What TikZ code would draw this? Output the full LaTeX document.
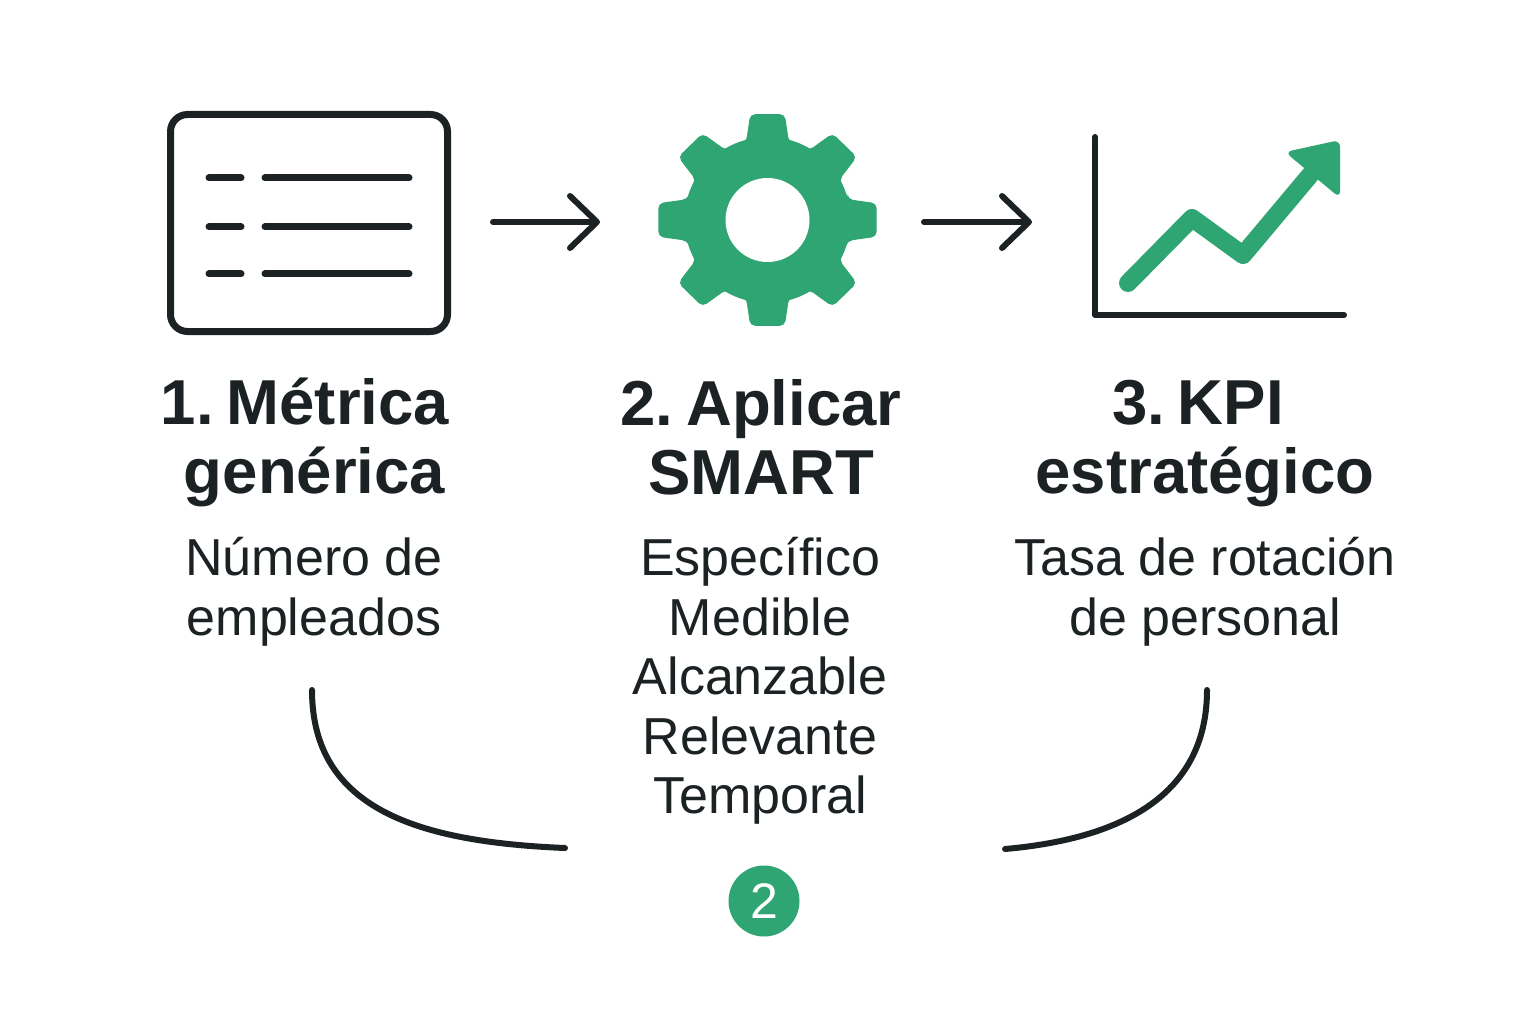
\documentclass[tikz,border=0pt]{standalone}
\usepackage{fontspec}
\setmainfont{Liberation Sans}
\newfontfamily\headfont[WordSpace=0.4]{Liberation Sans}
\usetikzlibrary{arrows.meta, positioning, calc}
\definecolor{icongreen}{HTML}{2FA573}
\definecolor{inkdark}{HTML}{1C2123}
\tikzset{
  head/.style    = {align=center, font=\headfont\bfseries\fontsize{63.5pt}{69pt}\selectfont, text=inkdark, inner sep=0pt},
  body/.style    = {align=center, font=\fontsize{52pt}{59.5pt}\selectfont, text=inkdark, inner sep=0pt},
  inkline/.style = {draw=inkdark, line width=6pt, line cap=round, line join=round},
  arr/.style     = {inkline, -{Straight Barb[length=27pt, width=52pt, round, line width=6pt]}},
}
\begin{document}
\begin{tikzpicture}[x=1pt,y=-1pt]
  \useasboundingbox[fill=white] (0,0) rectangle (1536,1024);

  % ── List card ─────────────────────────────────────
  \node[draw=inkdark, line width=7pt, rounded corners=17pt, minimum width=277pt, minimum height=217pt, inner sep=0pt] (Card) at (309,223) {};
  \foreach \yy in {178,227,274}{
    \coordinate (La) at (209,\yy);
    \coordinate (Lb) at (241,\yy);
    \coordinate (Lc) at (265,\yy);
    \coordinate (Ld) at (409,\yy);
    \draw[inkline, line width=7pt] (La) -- (Lb);
    \draw[inkline, line width=7pt] (Lc) -- (Ld);
  }

  % ── Gear ──────────────────────────────────────────
  \coordinate (Gear) at (767.5,220);
  \fill[icongreen, shift={(767.5,220)}, yscale=0.97, rounded corners=5pt] (-15:83)
    \foreach \aa in {0,45,...,315}{
      -- (\aa-15:83) -- (\aa-9:110.5) -- (\aa+9:110.5) -- (\aa+15:83)
    } -- cycle;
  \node[circle, fill=icongreen, minimum size=166pt, inner sep=0pt] (Hub) at (Gear) {};
  \node[circle, fill=white, minimum size=84pt, inner sep=0pt] (Hole) at (Gear) {};

  % ── Arrows ────────────────────────────────────────
  \coordinate (ArrA) at (493,222);
  \coordinate (ArrB) at (600,222);
  \coordinate (ArrC) at (924,222);
  \coordinate (ArrD) at (1032,222);
  \draw[arr] (ArrA) -- (ArrB);
  \draw[arr] (ArrC) -- (ArrD);

  % ── Chart ─────────────────────────────────────────
  \coordinate (AxTop) at (1095,137);
  \coordinate (AxO)   at (1095,315);
  \coordinate (AxEnd) at (1344,315);
  \draw[inkline] (AxTop) -- (AxO) -- (AxEnd);
  \coordinate (PtA) at (1128,283);
  \coordinate (PtB) at (1192,218);
  \coordinate (PtC) at (1243,255);
  \coordinate (PtD) at (1316,168);
  \draw[icongreen, line width=18pt, line cap=round, line join=round] (PtA) -- (PtB) -- (PtC) -- (PtD);
  \fill[icongreen, rounded corners=7pt] (1285,152) -- (1340,140) -- (1340,198) -- cycle;

  % ── Labels ────────────────────────────────────────
  \node[head] (HeadA) at (305,442) {1. Métrica\\\hspace*{19pt}genérica};
  \node[head] (HeadB) at (761,437) {2. Aplicar\\SMART};
  \node[head] (HeadC) at (1205,443.5) {3. KPI\hspace*{14pt}\\estratégico};
  \node[body] (BodyA) at (314,591.5) {Número de\\empleados};
  \node[body] (BodyB) at (760,681) {Específico\\Medible\\Alcanzable\\Relevante\\Temporal};
  \node[body] (BodyC) at (1205,591.5) {Tasa de rotación\\de personal};

  % ── Bottom curves and badge ───────────────────────
  \coordinate (CurA) at (312,690);
  \coordinate (CurB) at (565,848);
  \coordinate (CurC) at (1207,690);
  \coordinate (CurD) at (1005,849);
  \draw[inkline] (CurA) .. controls (312,810) and (420,842) .. (CurB);
  \draw[inkline] (CurC) .. controls (1207,790) and (1130,838) .. (CurD);
  \node[circle, fill=icongreen, minimum size=71pt, inner sep=0pt, text=white, font=\fontsize{50pt}{50pt}\selectfont] (Badge) at (764,901) {2};
\end{tikzpicture}
\end{document}
